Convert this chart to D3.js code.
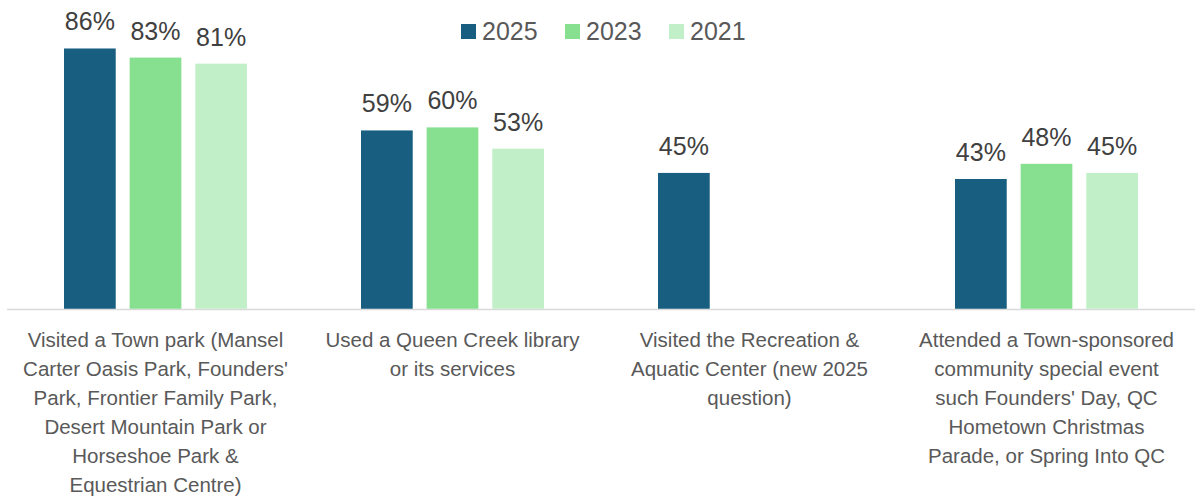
<!DOCTYPE html>
<html>
<head>
<meta charset="utf-8">
<script src="https://cdn.jsdelivr.net/npm/d3@7"></script>
<style>
  body { margin: 0; background: #fff; }
  svg { display: block; font-family: "Liberation Sans", Arial, sans-serif; }
</style>
</head>
<body>
<svg id="chart" width="1200" height="501"></svg>
<script>
// categories (label lines as wrapped in the original)
const categories = [
    ["Visited a Town park (Mansel", "Carter Oasis Park, Founders'", "Park, Frontier Family Park,", "Desert Mountain Park or", "Horseshoe Park &", "Equestrian Centre)"],
    ["Used a Queen Creek library", "or its services"],
    ["Visited the Recreation &", "Aquatic Center (new 2025", "question)"],
    ["Attended a Town-sponsored", "community special event", "such Founders' Day, QC", "Hometown Christmas", "Parade, or Spring Into QC"]
];
const seriesNames = ["2025", "2023", "2021"];
const values2025 = [0.86, 0.59, 0.45, 0.43];
const values2023 = [0.83, 0.60, null, 0.48];
const values2021 = [0.81, 0.53, null, 0.45];
const colors = ["#175e80", "#86e08f", "#c1f0c8"];

const allValues = [values2025, values2023, values2021];

const svg = d3.select("#chart");
const baseline = 309.5;

const x0 = d3.scaleBand()
    .domain(d3.range(categories.length))
    .range([7, 1195]);

const x1 = d3.scaleBand()
    .domain(seriesNames)
    .range([57, 240])
    .paddingInner(0.212);

const y = d3.scaleLinear()
    .domain([0, 1])
    .range([baseline, 6]);

const color = d3.scaleOrdinal().domain(seriesNames).range(colors);
const pct = d3.format(".0%");

// flatten into bar records
const bars = [];
seriesNames.forEach((s, si) => {
    allValues[si].forEach((v, ci) => {
        if (v != null) bars.push({ series: s, cat: ci, value: v });
    });
});

// axis line
svg.append("line")
    .attr("x1", x0.range()[0]).attr("x2", x0.range()[1])
    .attr("y1", baseline).attr("y2", baseline)
    .attr("stroke", "#d9d9d9")
    .attr("stroke-width", 1.5);

svg.append("g")
    .selectAll("rect")
    .data(bars)
    .join("rect")
    .attr("x", d => x0(d.cat) + x1(d.series))
    .attr("y", d => y(d.value))
    .attr("width", x1.bandwidth())
    .attr("height", d => baseline - 0.75 - y(d.value))
    .attr("fill", d => color(d.series));

// data labels
svg.append("g")
    .selectAll("text")
    .data(bars)
    .join("text")
    .attr("x", d => x0(d.cat) + x1(d.series) + x1.bandwidth() / 2)
    .attr("y", d => y(d.value) - 18)
    .attr("text-anchor", "middle")
    .attr("font-size", 25)
    .attr("fill", "#404040")
    .text(d => pct(d.value));

// category labels
const catG = svg.append("g")
    .selectAll("text")
    .data(categories)
    .join("text")
    .attr("text-anchor", "middle")
    .attr("font-size", 20.5)
    .attr("fill", "#595959");

catG.selectAll("tspan")
    .data((d, i) => d.map(line => ({ line, i })))
    .join("tspan")
    .attr("x", d => x0(d.i) + x0.bandwidth() / 2)
    .attr("y", (d, j) => 347 + j * 29)
    .text(d => d.line);

// legend
const legend = svg.append("g")
    .selectAll("g")
    .data(seriesNames)
    .join("g")
    .attr("transform", (d, i) => `translate(${461 + i * 104},0)`);

legend.append("rect")
    .attr("x", 0).attr("y", 24)
    .attr("width", 15).attr("height", 15)
    .attr("fill", d => color(d));

legend.append("text")
    .attr("x", 21)
    .attr("y", 39.5)
    .attr("font-size", 25)
    .attr("fill", "#595959")
    .text(d => d);
</script>
</body>
</html>
